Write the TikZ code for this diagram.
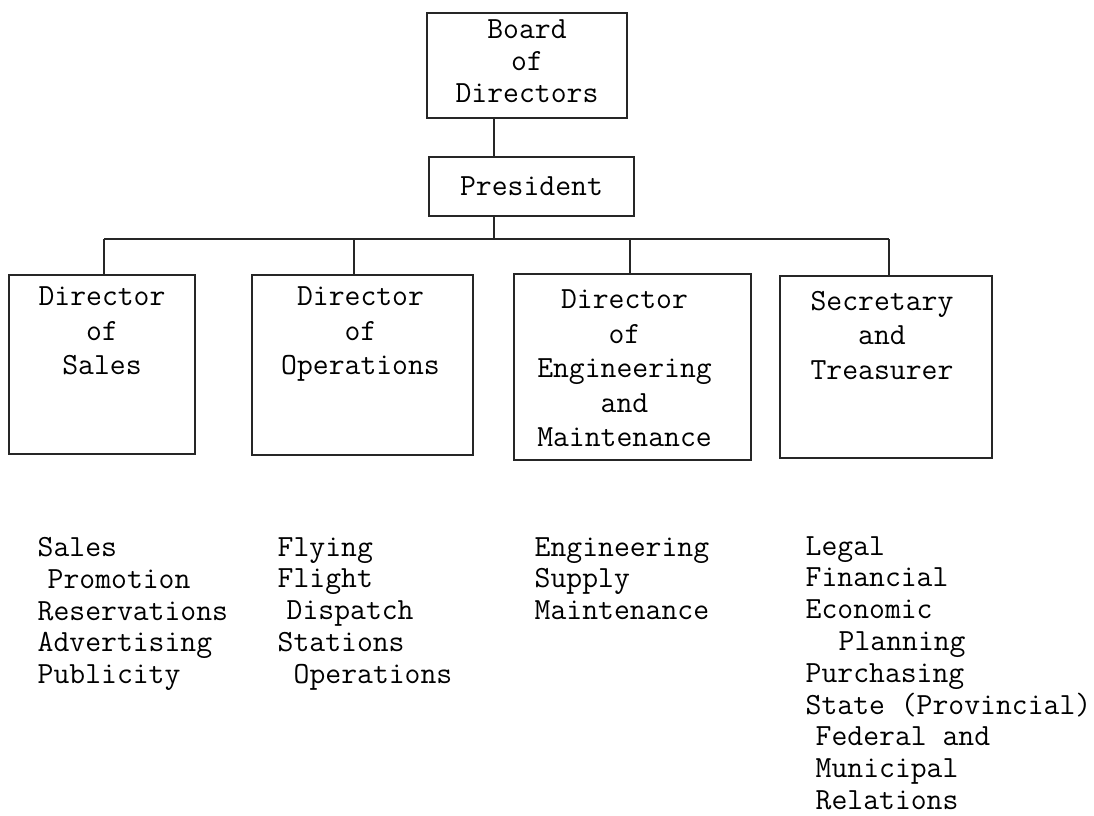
\documentclass[tikz,border=0pt]{standalone}
\usepackage{fontspec}
\usetikzlibrary{calc}

\begin{document}
\begin{tikzpicture}[
  x=1pt, y=-1pt,
  line width=1.4pt,
  unit/.style={draw=black!85, inner sep=0pt},
  title/.style={font=\ttfamily\fontsize{30.8}{34.5}\selectfont, align=center,
                anchor=north, inner sep=0pt},
  duties/.style={font=\ttfamily\fontsize{30.8}{31.8}\selectfont, align=left,
                 anchor=north west, inner sep=0pt},
  link/.style={draw=black!85, line width=1.4pt},
]
\useasboundingbox (0,0) rectangle (1094,815);

%% ---------- board and president ----------
\node[unit, minimum width=200pt, minimum height=105pt] (board) at (527,65.5) {};
\node[title, font=\ttfamily\fontsize{30.8}{32}\selectfont] (boardTxt)
  at ($(board.north)+(0,7)$) {Board\\ of\\ Directors};
\node[unit, minimum width=205pt, minimum height=59pt,
      font=\ttfamily\fontsize{30.8}{32}\selectfont] (pres) at (531.5,186.5) {President};

%% ---------- directors ----------
\node[unit, minimum width=186pt, minimum height=179pt] (sales) at (102,364.5) {};
\node[unit, minimum width=221pt, minimum height=180pt] (ops)   at (362.5,365) {};
\node[unit, minimum width=237pt, minimum height=186pt] (eng)   at (632.5,367) {};
\node[unit, minimum width=212pt, minimum height=182pt] (sec)   at (886,367) {};

\node[title] (salesTxt) at ($(sales.north)+(0,12)$)  {Director\\ of\\ Sales};
\node[title] (opsTxt)   at ($(ops.north)+(-2,12)$)   {Director\\ of\\ Operations};
\node[title] (engTxt)   at ($(eng.north)+(-8,16)$)   {Director\\ of\\ Engineering\\ and\\ Maintenance};
\node[title] (secTxt)   at ($(sec.north)+(-4,15)$)   {Secretary\\ and\\ Treasurer};

%% ---------- connectors ----------
\coordinate (spine) at (494,239);
\coordinate (dS) at (104,239);
\coordinate (dO) at (354,239);
\coordinate (dE) at (630,239);
\coordinate (dT) at (889,239);
\draw[link] (board.south -| spine) -- (pres.north -| spine);
\draw[link] (pres.south -| spine) -- (spine);
\draw[link] (dS) -- (dT);
\foreach \d/\b in {dS/sales, dO/ops, dE/eng, dT/sec}
  \draw[link] (\d) -- (\b.north -| \d);

%% ---------- duties under each director ----------
\node[duties] (salesList) at (37,536.5)
  {Sales\\ \hspace*{10pt}Promotion\\ Reservations\\ Advertising\\ Publicity};
\node[duties] (opsList) at (277,536.5)
  {Flying\\ Flight\\ \hspace*{9pt}Dispatch\\ Stations\\ \hspace*{16pt}Operations};
\node[duties] (engList) at (534,536.5)
  {Engineering\\ Supply\\ Maintenance};
\node[duties] (secList) at (805,535.5)
  {Legal\\ Financial\\ Economic\\ \hspace*{33pt}Planning\\ Purchasing\\
   State (Provincial)\\ \hspace*{10pt}Federal and\\ \hspace*{10pt}Municipal\\
   \hspace*{10pt}Relations};

\end{tikzpicture}
\end{document}
